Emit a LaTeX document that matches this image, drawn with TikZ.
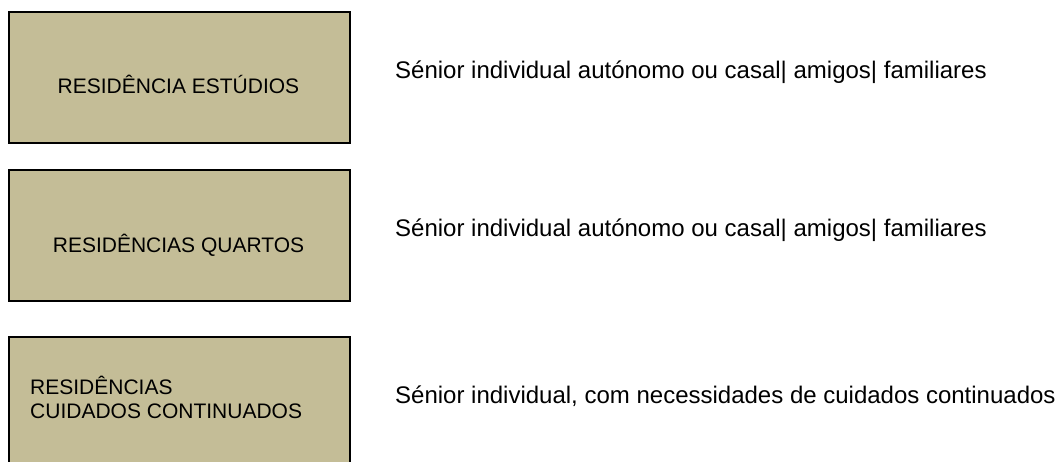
\documentclass[tikz,border=0pt]{standalone}
\usepackage{fontspec}
\setmainfont{Liberation Sans}
\usetikzlibrary{positioning}
\definecolor{boxtan}{RGB}{196,189,151}

\begin{document}
\begin{tikzpicture}[
	x=1pt, y=1pt,
	type box/.style={draw=black, line width=2pt, fill=boxtan, minimum width=341pt, minimum height=131pt, inner sep=0pt, anchor=north west},
	type label/.style={font=\fontsize{21}{24}\selectfont, inner sep=0pt},
	desc label/.style={font=\fontsize{24}{28}\selectfont, inner sep=0pt, anchor=base west},
	]
	\useasboundingbox (0,0) rectangle (1061,461);
	\clip (0,0) rectangle (1061,461);
	
	% Boxes
	\node[type box] (estudios) at (8, 450) {};
	\node[type box] (quartos) at (8, 292) {};
	\node[type box, minimum height=140pt] (cuidados) at (8, 125) {};
	
	% Box texts
	\node[type label, anchor=base] (estudiostxt) at (178.5, 367) {RESIDÊNCIA ESTÚDIOS};
	\node[type label, anchor=base] (quartostxt) at (178.5, 208) {RESIDÊNCIAS QUARTOS};
	\node[type label, anchor=base west, align=left] (cuidadostxt) at (30, 42) {RESIDÊNCIAS\\CUIDADOS CONTINUADOS};
	
	% Descriptions
	\node[desc label] (estudiosdesc) at (395, 382) {Sénior individual autónomo ou casal| amigos| familiares};
	\node[desc label] (quartosdesc) at (395, 224) {Sénior individual autónomo ou casal| amigos| familiares};
	\node[desc label] (cuidadosdesc) at (395, 57) {Sénior individual, com necessidades de cuidados continuados};
	
\end{tikzpicture}
\end{document}
